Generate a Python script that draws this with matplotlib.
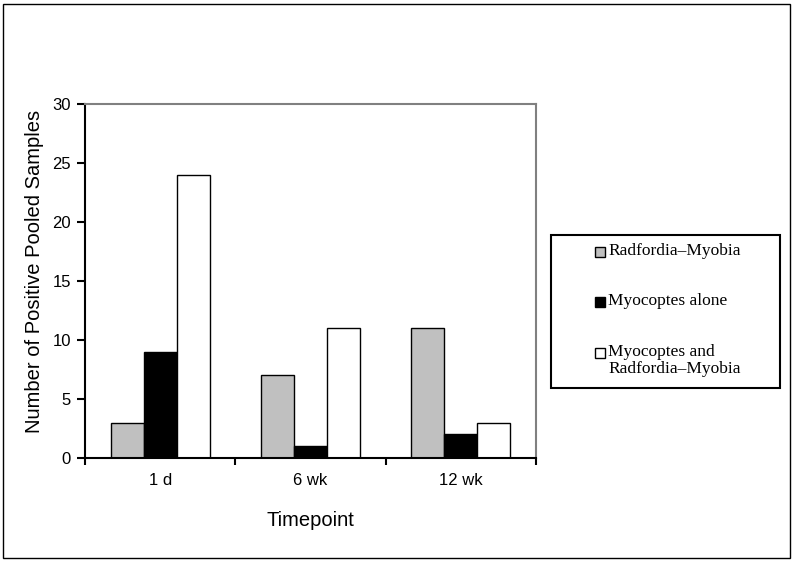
import matplotlib
matplotlib.use("Agg")
import matplotlib.pyplot as plt
from matplotlib.patches import Rectangle
import numpy as np

categories = ["1 d", "6 wk", "12 wk"]
radfordia_myobia = [3, 7, 11]
myocoptes_alone = [9, 1, 2]
myocoptes_and_rm = [24, 11, 3]
series_labels = ["Radfordia\u2013Myobia", "Myocoptes alone", "Myocoptes and\nRadfordia\u2013Myobia"]
series_colors = ["#c0c0c0", "#000000", "#ffffff"]

W, H = 794, 561
fig = plt.figure(figsize=(W/100, H/100), dpi=100)
ax = fig.add_axes([85/W, 1-458/H, (536-85)/W, (458-104)/H])

x = np.arange(len(categories))
w = 0.22
for i, (vals, c, lab) in enumerate(zip([radfordia_myobia, myocoptes_alone, myocoptes_and_rm], series_colors, series_labels)):
    ax.bar(x + (i-1)*w, vals, w, color=c, edgecolor="black", linewidth=1, label=lab)

ax.set_xlim(-0.5, 2.5)
ax.set_ylim(0, 30)
ax.set_yticks(range(0, 31, 5))
ax.set_xticks(x)
ax.set_xticklabels(categories, fontfamily="Liberation Sans", fontsize=12)
ax.set_xticks([-0.5, 0.5, 1.5, 2.5], minor=True)
ax.tick_params(axis="x", which="major", length=0, pad=11)
ax.tick_params(axis="x", which="minor", length=5, direction="out", width=1.5)
ax.tick_params(axis="y", length=6, direction="out", width=1.5, labelsize=12, pad=4)
for t in ax.get_yticklabels():
    t.set_fontfamily("Liberation Sans")
for s in ["left", "bottom"]:
    ax.spines[s].set_color("black")
    ax.spines[s].set_linewidth(1.5)
for s in ["top", "right"]:
    ax.spines[s].set_color("#808080")
    ax.spines[s].set_linewidth(1.5)

ax.set_ylabel("Number of Positive Pooled Samples", fontfamily="Liberation Sans", fontsize=14.5, labelpad=6)
ax.yaxis.label.set_y(0.528)
ax.set_xlabel("Timepoint", fontfamily="Liberation Sans", fontsize=14.5, labelpad=16)

# legend box (drawn manually to match top-aligned handles)
fig.patches.append(Rectangle((551/W, 1-388/H), (780-551)/W, (388-235)/H, transform=fig.transFigure,
                             fill=False, edgecolor="black", linewidth=1.5))
entry_y = [252, 302, 353]
for lab, c, yy in zip(series_labels, series_colors, entry_y):
    fig.patches.append(Rectangle((595/W, 1-(yy+5)/H), 10/W, 10/H, transform=fig.transFigure,
                                 facecolor=c, edgecolor="black", linewidth=1))
    fig.text(608/W, 1-(yy-9)/H, lab, ha="left", va="top", fontfamily="Liberation Serif",
             fontsize=12.5, linespacing=1.05)

fig.patches.append(Rectangle((3/W, 3/H), 787/W, 554/H, transform=fig.transFigure,
                             fill=False, edgecolor="black", linewidth=1))

fig.savefig("out.png", dpi=100)
